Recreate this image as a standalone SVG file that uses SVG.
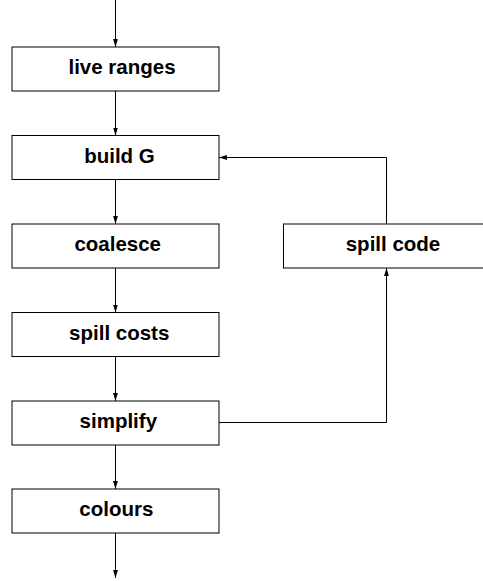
<svg xmlns="http://www.w3.org/2000/svg" width="483" height="581" viewBox="0 0 483 581">
  <style>
    .box { fill: #ffffff; stroke: #000000; stroke-width: 1; }
    .lbl { font-family: "Liberation Sans", Arial, Helvetica, sans-serif; font-weight: bold; font-size: 20.5px; fill: #000000; text-anchor: middle; }
    .edge { fill: none; stroke: #000000; stroke-width: 1; }
  </style>
  <defs>
    <marker id="arrow" viewBox="0 0 10 6" refX="10" refY="3" markerWidth="8" markerHeight="5" markerUnits="userSpaceOnUse" orient="auto">
      <path d="M0,0 L10,3 L0,6 Z" fill="#000000"/>
    </marker>
  </defs>
  <rect width="483" height="581" fill="#ffffff"/>

  <g id="connectors">
    <path class="edge" d="M115.5,0 V47" marker-end="url(#arrow)"/>
    <path class="edge" d="M115.5,91 V135.5" marker-end="url(#arrow)"/>
    <path class="edge" d="M115.5,179.5 V224" marker-end="url(#arrow)"/>
    <path class="edge" d="M115.5,268 V312.5" marker-end="url(#arrow)"/>
    <path class="edge" d="M115.5,356.5 V401" marker-end="url(#arrow)"/>
    <path class="edge" d="M115.5,445 V489" marker-end="url(#arrow)"/>
    <path class="edge" d="M115.5,533 V578" marker-end="url(#arrow)"/>
    <!-- simplify -> spill code -->
    <path class="edge" d="M219,422.5 H386.5 V268" marker-end="url(#arrow)"/>
    <!-- spill code -> build G -->
    <path class="edge" d="M386.5,224 V157.5 H219" marker-end="url(#arrow)"/>
  </g>

  <g id="live-ranges">
    <rect class="box" x="12" y="47" width="207" height="44"/>
    <text class="lbl" x="122" y="74">live ranges</text>
  </g>
  <g id="build-g">
    <rect class="box" x="12" y="135.5" width="207" height="44"/>
    <text class="lbl" x="119.5" y="162.5">build G</text>
  </g>
  <g id="coalesce">
    <rect class="box" x="12" y="224" width="207" height="44"/>
    <text class="lbl" x="117.7" y="251">coalesce</text>
  </g>
  <g id="spill-costs">
    <rect class="box" x="12" y="312.5" width="207" height="44"/>
    <text class="lbl" x="119.2" y="339.5">spill costs</text>
  </g>
  <g id="simplify">
    <rect class="box" x="12" y="401" width="207" height="44"/>
    <text class="lbl" x="118.3" y="428">simplify</text>
  </g>
  <g id="colours">
    <rect class="box" x="12" y="489" width="207" height="44"/>
    <text class="lbl" x="116.3" y="516">colours</text>
  </g>
  <g id="spill-code">
    <rect class="box" x="283.5" y="224" width="207" height="44"/>
    <text class="lbl" x="393" y="251">spill code</text>
  </g>
</svg>
